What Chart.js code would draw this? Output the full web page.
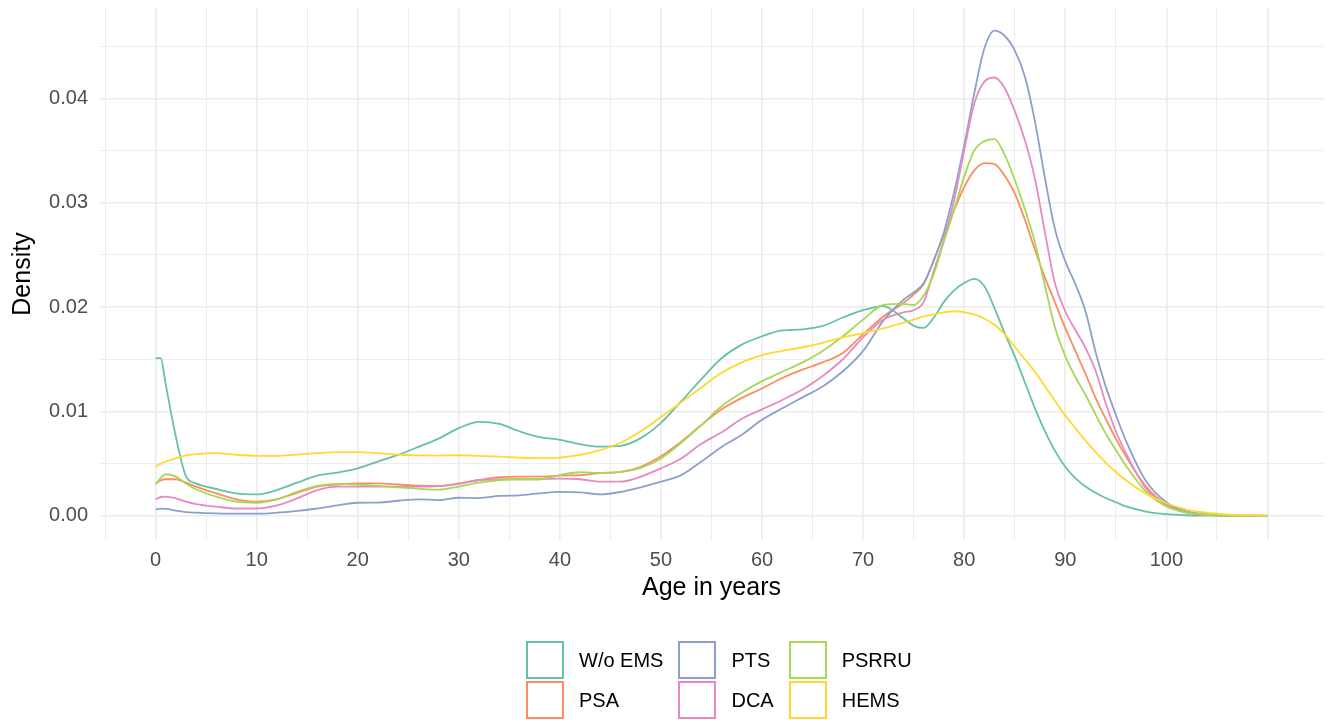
<!DOCTYPE html>
<html lang="en">
<head>
<meta charset="UTF-8">
<title>Age density by EMS type</title>
<script src="https://cdn.jsdelivr.net/npm/chart.js"></script>
<style>
  body { margin: 0; background: #fff; font-family: "Liberation Sans", Arial, sans-serif; }
  #wrap { position: relative; width: 1329px; height: 720px; }
  #legend { position: absolute; left: 526px; top: 641px; display: grid; grid-auto-flow: column;
            grid-template-rows: 38px 38px; row-gap: 2px; column-gap: 15px; }
  .item { display: flex; align-items: center; font-size: 20px; color: #000; }
  .key { width: 38px; height: 38px; box-sizing: border-box; border: 2px solid; margin-right: 15px; background: #fff; }
</style>
</head>
<body>
<div id="wrap">
  <canvas id="densityChart"></canvas>
  <div id="legend"></div>
</div>
<script>
// age grid the densities are read at
const ages = [0, 0.5, 1, 2, 3, 4,
  6, 8, 10, 12, 14, 16, 18, 20, 22, 24, 26, 28,
  30, 32, 34, 36, 38, 40, 42, 44, 46, 48, 50, 52,
  54, 56, 58, 60, 62, 64, 66, 68, 70, 72,
  74, 75, 76, 77, 78, 79, 80, 81, 82, 83, 84, 85,
  86, 87, 88, 89, 90, 91, 92, 93, 94, 95, 96,
  98, 100, 102, 104, 106, 108, 110];

const woEms = [0.0151, 0.0151, 0.0126, 0.0076, 0.0038, 0.0031,
  0.00257, 0.00215, 0.00205, 0.00247, 0.00317, 0.00385, 0.00414, 0.00455, 0.0052, 0.00584, 0.0066, 0.0074,
  0.0084, 0.0090, 0.0088, 0.0081, 0.00754, 0.00728, 0.00686, 0.00663, 0.0067, 0.00744, 0.0089, 0.01096,
  0.0131, 0.0151, 0.0164, 0.0172, 0.01776, 0.01786, 0.0182, 0.0190, 0.0197, 0.0201,
  0.0189, 0.0182, 0.0180, 0.0190, 0.0205, 0.0216, 0.0223, 0.0227, 0.0220, 0.0199, 0.0175, 0.0153,
  0.0128, 0.0103, 0.0081, 0.0062, 0.0047, 0.0036, 0.0028, 0.0022, 0.0017, 0.0013, 0.0009,
  0.0004, 0.00015, 0.00005, 0.00002, 0, 0, 0];

const psa = [0.00305, 0.0034, 0.0035, 0.0035, 0.00317, 0.0028,
  0.00215, 0.00158, 0.00135, 0.00158, 0.0022, 0.0028, 0.0030, 0.0031, 0.0031, 0.0030, 0.00288, 0.00286,
  0.0031, 0.00343, 0.0037, 0.00375, 0.00375, 0.00385, 0.0039, 0.0041, 0.0042, 0.0047, 0.0057, 0.0071,
  0.0087, 0.0102, 0.0113, 0.0122, 0.0132, 0.0140, 0.0147, 0.0156, 0.0174, 0.0191,
  0.0204, 0.0212, 0.0222, 0.0245, 0.0270, 0.0293, 0.0315, 0.0331, 0.0338, 0.0337, 0.0326, 0.0309,
  0.0284, 0.0255, 0.0228, 0.0204, 0.0180, 0.0158, 0.0136, 0.0113, 0.0093, 0.0074, 0.0057,
  0.0028, 0.0011, 0.0004, 0.00014, 0.00005, 0.00001, 0];

const pts = [0.0006, 0.00068, 0.00066, 0.0005, 0.00036, 0.0003,
  0.00023, 0.0002, 0.0002, 0.0003, 0.00048, 0.0007, 0.0010, 0.00125, 0.00127, 0.00144, 0.00158, 0.0015,
  0.00173, 0.0017, 0.0019, 0.00196, 0.00215, 0.0023, 0.00225, 0.00206, 0.00228, 0.00273, 0.00327, 0.0039,
  0.0052, 0.0066, 0.00776, 0.0092, 0.0103, 0.01135, 0.0124, 0.01385, 0.0158, 0.0187,
  0.0207, 0.0214, 0.0223, 0.0245, 0.0272, 0.0310, 0.0355, 0.0405, 0.0448, 0.0465, 0.0460, 0.0446,
  0.0421, 0.0378, 0.0323, 0.0274, 0.0244, 0.0222, 0.0196, 0.0157, 0.0124, 0.0097, 0.0072,
  0.0033, 0.0013, 0.0004, 0.00012, 0.00004, 0.00001, 0];

const dca = [0.00158, 0.0018, 0.00183, 0.00167, 0.00135, 0.00112,
  0.00087, 0.0007, 0.0007, 0.0010, 0.00167, 0.00247, 0.0028, 0.0028, 0.0028, 0.0028, 0.0028, 0.00285,
  0.00305, 0.00343, 0.0035, 0.0035, 0.0035, 0.00356, 0.0035, 0.00327, 0.00327, 0.00375, 0.00455, 0.0055,
  0.0069, 0.0080, 0.0093, 0.0102, 0.0111, 0.0121, 0.0134, 0.0150, 0.0171, 0.0188,
  0.0195, 0.0197, 0.0205, 0.0235, 0.0265, 0.0302, 0.0350, 0.0395, 0.0416, 0.0420, 0.0410, 0.0388,
  0.0360, 0.0323, 0.0271, 0.0222, 0.0196, 0.0178, 0.0161, 0.0139, 0.0108, 0.0081, 0.0060,
  0.0026, 0.0010, 0.0003, 0.0001, 0.00003, 0, 0];

const psrru = [0.00305, 0.0036, 0.00398, 0.00375, 0.0031, 0.00254,
  0.00183, 0.00135, 0.00125, 0.00158, 0.0023, 0.00286, 0.00305, 0.0030, 0.00286, 0.00273, 0.0026, 0.0025,
  0.0028, 0.00317, 0.00343, 0.0035, 0.0035, 0.0039, 0.00417, 0.0041, 0.0042, 0.0046, 0.0055, 0.0070,
  0.0087, 0.0105, 0.0118, 0.0129, 0.0138, 0.0147, 0.0158, 0.0172, 0.0188, 0.0202,
  0.0203, 0.0202, 0.0211, 0.0232, 0.0263, 0.0293, 0.0325, 0.0350, 0.0359, 0.0361, 0.0346, 0.0322,
  0.0294, 0.0262, 0.0220, 0.0180, 0.0153, 0.0133, 0.0116, 0.0097, 0.0079, 0.0063, 0.0048,
  0.0023, 0.0009, 0.0003, 0.0001, 0.00003, 0, 0];

const hems = [0.0047, 0.0050, 0.0052, 0.0055, 0.0058, 0.0059,
  0.0060, 0.00584, 0.00575, 0.00575, 0.00587, 0.0060, 0.0061, 0.0061, 0.0060, 0.00587, 0.00578, 0.00577,
  0.0058, 0.00574, 0.00567, 0.00558, 0.00552, 0.00558, 0.00584, 0.0063, 0.0070, 0.0081, 0.00946, 0.01087,
  0.0123, 0.0137, 0.0147, 0.0154, 0.0158, 0.01615, 0.01658, 0.0171, 0.0175, 0.01795,
  0.0185, 0.0188, 0.0191, 0.0193, 0.0195, 0.0196, 0.0195, 0.0193, 0.0189, 0.0183, 0.0174, 0.0162,
  0.0150, 0.0138, 0.0124, 0.0110, 0.0096, 0.0084, 0.0072, 0.0061, 0.0051, 0.0042, 0.0034,
  0.0021, 0.0012, 0.0006, 0.0003, 0.00014, 0.00006, 0.00003];

const groups = ['W/o EMS', 'PSA', 'PTS', 'DCA', 'PSRRU', 'HEMS'];
const groupValues = [woEms, psa, pts, dca, psrru, hems];
const groupColors = ['#66C2A5', '#FC8D62', '#8DA0CB', '#E78AC3', '#A6D854', '#FFD92F'];

const xTicks = [-5, 0, 5, 10, 15, 20, 25, 30, 35, 40, 45, 50, 55, 60, 65, 70, 75, 80, 85, 90, 95, 100, 105, 110];
const xLabels = [0, 10, 20, 30, 40, 50, 60, 70, 80, 90, 100];
const yTicks = [0, 0.005, 0.01, 0.015, 0.02, 0.025, 0.03, 0.035, 0.04, 0.045];

const isYMajor = (v) => Math.round(v * 1000) % 10 === 0;
const gridColor = '#EBEBEB';

Chart.defaults.font.family = "'Liberation Sans', Arial, sans-serif";

const datasets = groups.map((name, g) => ({
    label: name,
    data: ages.map((a, i) => ({ x: a, y: groupValues[g][i] })),
    borderColor: groupColors[g],
    backgroundColor: groupColors[g],
    borderWidth: 1.8,
    pointRadius: 0,
    fill: false,
    cubicInterpolationMode: 'monotone',
    order: groups.length - g  // later groups drawn on top, like ggplot
}));

const ctx = document.getElementById('densityChart').getContext('2d');
const chart = new Chart(ctx, {
    type: 'line',
    data: { datasets: datasets },
    options: {
        responsive: true,
        maintainAspectRatio: false,
        animation: false,
        layout: { padding: { top: 8, right: 6, bottom: 117, left: 0 } },
        plugins: { legend: { display: false }, tooltip: { enabled: false } },
        scales: {
            x: {
                type: 'linear',
                min: -5.5,
                max: 115.5,
                afterBuildTicks: (axis) => { axis.ticks = xTicks.map((v) => ({ value: v })); },
                afterFit: (axis) => {
                    axis.height = 63;
                    axis.paddingLeft = 0;
                    axis.paddingRight = 0;
                },
                ticks: {
                    autoSkip: false,
                    maxRotation: 0,
                    padding: 8,
                    color: '#4D4D4D',
                    font: { size: 20 },
                    callback: (v) => xLabels.includes(v) ? String(v) : ''
                },
                grid: {
                    color: gridColor,
                    drawTicks: false,
                    lineWidth: (c) => (c.tick && c.tick.value % 10 === 0) ? 1.6 : 0.9
                },
                border: { display: false },
                title: { display: true, text: 'Age in years', color: '#000', font: { size: 25 }, padding: 0 }
            },
            y: {
                min: -0.00232,
                max: 0.04866,
                afterBuildTicks: (axis) => { axis.ticks = yTicks.map((v) => ({ value: v })); },
                afterFit: (axis) => {
                    axis.width = 100;
                    axis.paddingTop = 0;
                    axis.paddingBottom = 0;
                },
                ticks: {
                    padding: 12,
                    color: '#4D4D4D',
                    font: { size: 20 },
                    callback: (v) => isYMajor(v) ? v.toFixed(2) : ''
                },
                grid: {
                    color: gridColor,
                    drawTicks: false,
                    lineWidth: (c) => (c.tick && isYMajor(c.tick.value)) ? 1.6 : 0.9
                },
                border: { display: false },
                title: { display: true, text: 'Density', color: '#000', font: { size: 25 }, padding: { top: 8, bottom: 0 } }
            }
        }
    }
});

// legend: 2 rows x 3 columns, filled column by column like ggplot
const legendBox = document.getElementById('legend');
groups.forEach((name, g) => {
    const item = document.createElement('div');
    item.className = 'item';
    const key = document.createElement('span');
    key.className = 'key';
    key.style.borderColor = groupColors[g];
    const text = document.createElement('span');
    text.textContent = name;
    item.appendChild(key);
    item.appendChild(text);
    legendBox.appendChild(item);
});
</script>
</body>
</html>
